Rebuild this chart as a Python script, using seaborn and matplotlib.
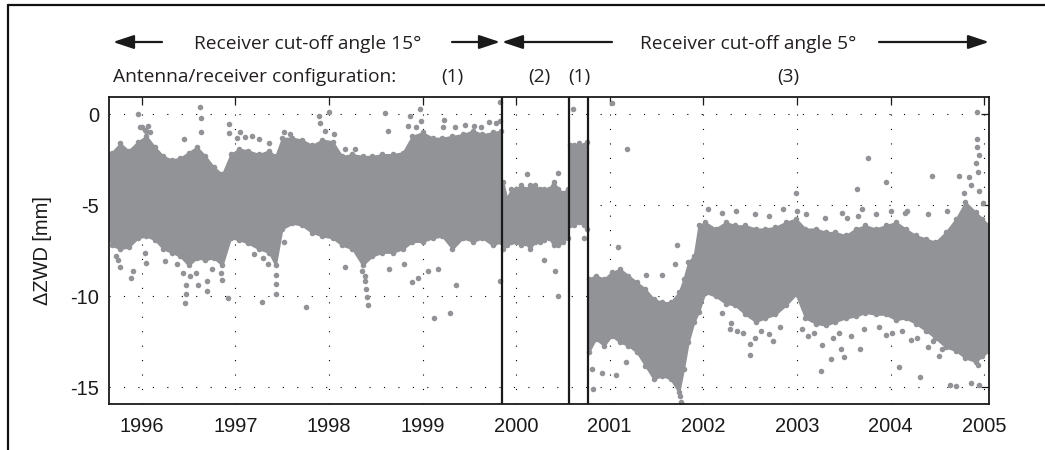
import matplotlib
matplotlib.use("Agg")
import matplotlib.pyplot as plt
from matplotlib.lines import Line2D
from matplotlib.patches import FancyArrowPatch
import seaborn as sns

# ---------------------------------------------------------------------------
# ΔZWD time series (decimal year, mm): dense band per session (upper / lower
# edge of the point cloud) plus isolated points outside the band.
# ---------------------------------------------------------------------------
# Session 1: cut-off 15°, configuration (1)
s1_year = [1995.65, 1995.68, 1995.77, 1995.86, 1995.96, 1996.05, 1996.14, 1996.23,
           1996.32, 1996.41, 1996.50, 1996.59, 1996.68, 1996.77, 1996.86, 1996.95,
           1997.04, 1997.14, 1997.25, 1997.36, 1997.43, 1997.50, 1997.61, 1997.71,
           1997.82, 1997.93, 1998.04, 1998.14, 1998.25, 1998.36, 1998.46, 1998.57,
           1998.68, 1998.79, 1998.89, 1999.00, 1999.11, 1999.21, 1999.32, 1999.43,
           1999.54, 1999.64, 1999.75, 1999.84]
s1_upper = [-2.2, -2.1, -1.6, -2.0, -1.5, -1.2, -1.8, -2.3, -2.5, -2.4, -2.1, -1.8,
            -2.3, -2.9, -3.3, -2.2, -1.9, -2.0, -2.2, -2.0, -2.3, -1.3, -1.3, -1.4,
            -1.7, -1.4, -1.5, -2.3, -2.2, -2.3, -2.3, -2.2, -2.2, -2.1, -1.2, -1.0,
            -1.3, -1.3, -1.2, -1.1, -0.9, -1.1, -1.0, -0.9]
s1_lower = [-6.8, -7.2, -7.4, -7.3, -6.8, -6.7, -6.9, -7.4, -7.6, -7.8, -8.3, -7.9,
            -8.0, -7.9, -8.3, -6.8, -6.9, -7.1, -7.4, -7.6, -8.3, -6.3, -6.0, -6.1,
            -6.5, -6.7, -6.8, -7.2, -7.4, -8.3, -7.8, -7.6, -7.6, -7.4, -7.0, -7.0,
            -6.8, -6.7, -7.4, -6.8, -7.0, -6.8, -7.2, -7.0]

# Session 2: cut-off 5°, configuration (2)
s2_year = [1999.86, 1999.90, 1999.95, 2000.00, 2000.05, 2000.10, 2000.15, 2000.20,
           2000.25, 2000.30, 2000.35, 2000.40, 2000.45, 2000.50, 2000.55]
s2_upper = [-3.7, -4.6, -4.1, -4.1, -3.9, -4.1, -3.9, -3.9, -4.1, -4.1, -4.1, -3.7,
            -4.1, -4.3, -4.1]
s2_lower = [-7.4, -7.2, -7.0, -7.0, -7.2, -7.1, -7.4, -7.0, -7.0, -6.9, -6.8, -7.2,
            -7.2, -7.0, -6.8]

# Session 3: cut-off 5°, configuration (1)
s3_year = [2000.575, 2000.62, 2000.67, 2000.72, 2000.755]
s3_upper = [-1.7, -1.7, -1.6, -1.7, -1.5]
s3_lower = [-6.1, -6.1, -5.9, -6.1, -6.3]

# Session 4: cut-off 5°, configuration (3)
s4_year = [2000.775, 2000.85, 2000.94, 2001.02, 2001.11, 2001.20, 2001.29, 2001.38,
           2001.47, 2001.56, 2001.65, 2001.74, 2001.79, 2001.84, 2001.90, 2001.95,
           2002.02, 2002.13, 2002.24, 2002.34, 2002.45, 2002.56, 2002.66, 2002.77,
           2002.88, 2002.99, 2003.09, 2003.20, 2003.31, 2003.41, 2003.52, 2003.63,
           2003.73, 2003.84, 2003.95, 2004.06, 2004.16, 2004.27, 2004.38, 2004.48,
           2004.59, 2004.70, 2004.80, 2004.91, 2004.98, 2005.05]
s4_upper = [-9.05, -8.86, -9.05, -8.68, -8.50, -8.86, -9.23, -9.60, -10.15, -10.33,
            -10.33, -9.78, -9.05, -8.13, -7.76, -6.11, -5.93, -6.29, -5.93, -6.11,
            -6.11, -6.29, -6.29, -6.20, -5.93, -5.74, -6.29, -6.29, -6.48, -6.48,
            -6.66, -6.29, -6.11, -6.29, -6.11, -5.93, -6.29, -6.66, -6.84, -7.03,
            -6.48, -5.74, -4.83, -5.38, -5.74, -6.11]
s4_lower = [-13.08, -12.35, -12.72, -12.17, -12.53, -12.72, -13.08, -13.82, -14.55,
            -14.37, -14.55, -15.28, -14.00, -12.53, -11.43, -10.88,
            -9.8, -10.0, -10.4, -10.5, -11.0, -11.4, -11.2, -11.0, -10.5, -9.9,
            -11.2, -11.5, -11.6, -11.4, -11.2, -11.1, -10.9, -11.0, -11.0, -11.3,
            -11.2, -11.5, -11.9, -12.3, -12.8, -13.0, -13.4, -13.6, -13.3, -13.0]

# Isolated points outside the dense band
out_year = [1995.96, 1995.98, 1996.05, 1996.62, 1996.63, 1996.63, 1996.93, 1996.93,
            1997.05, 1997.89, 1997.90, 1998.00, 1998.60, 1998.63, 1998.87, 1998.97,
            1998.98, 1999.23, 1999.71, 1999.83, 1999.83,
            1995.77, 1995.88, 1995.91, 1996.05, 1996.25, 1996.46, 1996.47, 1996.47,
            1996.58, 1996.60, 1996.70, 1996.70, 1996.86, 1996.92, 1997.29, 1997.35,
            1997.43, 1997.43, 1997.43, 1997.76, 1998.17, 1998.39, 1998.40, 1998.41,
            1998.42, 1998.64, 1998.80, 1998.89, 1998.95, 1999.06, 1999.12, 1999.17,
            1999.29, 1999.36, 1999.83,
            2000.12, 2000.30, 2000.45, 2000.42, 2000.45,
            2000.61, 2000.73,
            2001.02, 2001.18, 2001.09, 2000.81, 2000.82, 2000.92, 2001.07, 2001.17,
            2001.39, 2001.56, 2001.72, 2001.70, 2001.76, 2001.75, 2002.99, 2003.00,
            2003.26, 2003.36, 2003.50, 2003.53, 2003.64, 2003.65, 2003.76, 2003.95,
            2004.09, 2004.18, 2004.32, 2004.44, 2004.63, 2004.70, 2004.73, 2004.92,
            2004.92, 2004.92, 2004.94, 2004.91, 2004.93, 2004.84, 2004.86, 2004.95,
            2004.99, 2004.95, 2004.86, 2004.93, 2002.50, 2002.50, 2002.36, 2002.30,
            2002.74, 2003.27, 2003.47, 2003.67, 2003.95, 2004.45, 2004.55,
            2002.20, 2002.28, 2002.42, 2002.55, 2002.62, 2002.70, 2002.82, 2003.05,
            2003.12, 2003.18, 2003.38, 2003.45, 2003.58, 2003.72, 2003.88, 2004.02,
            2004.12, 2004.22, 2004.28, 2004.40, 2004.52,
            # spikes along the upper edge
            1996.00, 1996.03, 1996.07, 1996.09, 1996.45, 1997.02, 1997.10, 1997.18,
            1997.25, 1997.36, 1997.52, 1997.58, 1997.96, 1998.05, 1998.17, 1998.28,
            1998.85, 1998.93, 1999.22, 1999.35, 1999.45, 1999.55, 1999.62, 1999.79,
            2002.05, 2002.20, 2002.35, 2002.55, 2002.70, 2002.85, 2003.10, 2003.30,
            2003.48, 2003.70, 2003.85, 2004.00, 2004.15, 2004.40, 2004.60, 2004.78,
            # spikes along the lower edge
            1995.72, 1995.75, 1996.04, 1996.38, 1996.44, 1996.52, 1996.75, 1996.85,
            1997.20, 1997.30, 1997.52, 1998.35, 1998.38]
out_value = [0.0, -0.7, -0.9, 0.4, -0.2, -0.95, -0.55, -1.05,
             -1.0, -0.1, -0.5, 0.1, 0.05, -0.9, -0.1, 0.3,
             -0.35, -0.3, -0.4, 0.7, -0.35,
             -8.4, -9.0, -8.6, -8.15, -8.05, -10.35, -9.85, -9.4,
             -8.7, -9.4, -9.15, -9.7, -9.1, -10.1, -10.3, -8.2,
             -8.85, -9.3, -9.85, -10.6, -8.4, -9.15, -9.6, -10.05,
             -10.5, -8.5, -8.25, -9.2, -9.0, -8.6, -11.2, -8.5,
             -10.9, -9.4, -9.15,
             -3.3, -8.0, -3.2, -8.6, -10.0,
             0.3, -6.8,
             0.6, -1.9, -7.3, -14.0, -15.1, -14.2, -14.3, -13.6,
             -8.85, -8.85, -7.2, -8.2, -15.8, -15.5, -4.3, -5.3,
             -14.1, -13.45, -13.35, -5.7, -4.1, -5.6, -2.4, -3.7,
             -13.9, -5.3, -14.45, -3.4, -14.9, -14.95, -3.4, 0.1,
             -1.35, -1.8, -2.25, -2.7, -3.15, -3.45, -3.9, -4.2,
             -4.85, -14.9, -14.75, -13.8, -13.25, -12.6, -11.9, -11.45,
             -12.45, -12.7, -12.9, -12.9, -12.15, -12.45, -12.9,
             -10.9, -11.8, -12.0, -12.3, -11.9, -12.1, -11.7, -11.8,
             -12.2, -12.0, -12.3, -12.0, -12.2, -11.8, -11.7, -12.0,
             -11.9, -12.4, -12.3, -12.8, -13.3,
             -0.7, -0.85, -0.65, -1.0, -1.35, -1.3, -1.25, -1.2,
             -1.35, -1.6, -1.0, -1.1, -0.9, -1.1, -1.9, -1.9,
             -0.65, -0.7, -0.7, -0.7, -0.6, -0.65, -0.7, -0.5,
             -5.2, -5.4, -5.3, -5.5, -5.6, -5.2, -5.5, -5.7,
             -5.4, -5.2, -5.5, -5.3, -5.4, -5.5, -5.3, -4.3,
             -7.8, -8.0, -7.6, -8.2, -8.7, -8.9, -8.5, -8.7,
             -7.7, -7.9, -7.0, -8.6, -8.9]

# Changes of the antenna/receiver configuration (decimal year)
config_changes = [1999.845, 2000.565, 2000.763]

year_ticks = list(range(1996, 2006))
value_ticks = [0, -5, -10, -15]
value_ticklabels = ["0", "-5", "-10", "-15"]

# ---------------------------------------------------------------------------
sns.set_style("white")
plt.rcParams["axes.unicode_minus"] = False
plt.rcParams["font.family"] = ["Liberation Sans", "DejaVu Sans"]

W, H = 1045, 450
fig = plt.figure(figsize=(W / 100, H / 100), dpi=100)
fig.patch.set_facecolor("white")


def fx(px):
    return px / W


def fy(py):
    return 1 - py / H


ax = fig.add_axes([fx(108.7), fy(404), fx(989) - fx(108.7), fy(97) - fy(404)])

point_grey = "#929397"
sessions = [(s1_year, s1_upper, s1_lower), (s2_year, s2_upper, s2_lower),
            (s3_year, s3_upper, s3_lower), (s4_year, s4_upper, s4_lower)]
for yr, up, lo in sessions:
    ax.fill_between(yr, lo, up, color=point_grey, linewidth=1.2,
                    edgecolor=point_grey, zorder=1)
    sns.scatterplot(x=yr + yr, y=up + lo, ax=ax, color=point_grey, s=16,
                    linewidth=0, legend=False, zorder=1)

sns.scatterplot(x=out_year, y=out_value, ax=ax, color=point_grey, s=16,
                linewidth=0, legend=False, zorder=1)

for xc in config_changes:
    ax.axvline(xc, color="#1a1a1a", linewidth=1.6, zorder=3)

ax.set_xlim(1995.647, 2005.052)
ax.set_ylim(-15.92, 0.95)
ax.set_xticks(year_ticks)
ax.set_xticklabels([str(y) for y in year_ticks])
ax.set_yticks(value_ticks)
ax.set_yticklabels(value_ticklabels)

ax.set_axisbelow(True)
ax.grid(True, color="black", linestyle=(0, (1, 12)), linewidth=0.8)
ax.tick_params(direction="in", length=5.5, width=0.9, top=True, right=True,
               labelsize=14.4, colors="#1a1a1a")
ax.tick_params(axis="x", pad=9)
ax.tick_params(axis="y", pad=7)
for sp in ax.spines.values():
    sp.set_visible(True)
    sp.set_linewidth(1.3)
    sp.set_color("#1a1a1a")

ax.set_xlabel("")
ax.set_ylabel("ΔZWD [mm]", fontsize=14.4, color="#1a1a1a")
ax.yaxis.set_label_coords((52 - 108.7) / (989 - 108.7), 0.5)

# ---------------------------------------------------------------------------
# Header annotations
ann_font = ["Open Sans", "DejaVu Sans"]
ann_color = "#231f20"
config_label = "Antenna/receiver configuration:"
probe = fig.text(0, 0, config_label, fontsize=14, family=ann_font)
fig.canvas.draw()
ann_size = 14 * 284 / probe.get_window_extent().width
probe.remove()

txt_kw = dict(fontsize=ann_size, family=ann_font, color=ann_color, va="baseline")
fig.text(fx(194), fy(49), "Receiver cut-off angle 15°", ha="left", **txt_kw)
fig.text(fx(640), fy(49), "Receiver cut-off angle 5°", ha="left", **txt_kw)
fig.text(fx(113), fy(82), config_label, ha="left", **txt_kw)
for cx, lab in [(452, "(1)"), (539, "(2)"), (579.5, "(1)"), (788, "(3)")]:
    fig.text(fx(cx), fy(82), lab, ha="center", **txt_kw)

arrow_kw = dict(arrowstyle="-|>,head_length=0.9,head_width=0.3", color="#1a1a1a",
                lw=1.6, shrinkA=0, shrinkB=0, mutation_scale=14)
for x0, x1 in [(162, 113), (452, 500), (612, 502), (879, 989)]:
    fig.add_artist(FancyArrowPatch(
        (fx(x0), fy(42)), (fx(x1), fy(42)), transform=fig.transFigure, **arrow_kw))

# Frame around the figure (top and left edges)
fig.add_artist(Line2D([fx(8), 1.0], [fy(5), fy(5)], transform=fig.transFigure,
                      color="#111111", linewidth=1.6))
fig.add_artist(Line2D([fx(8), fx(8)], [fy(5), 0.0], transform=fig.transFigure,
                      color="#111111", linewidth=1.6))

fig.savefig("out.png", dpi=100)
